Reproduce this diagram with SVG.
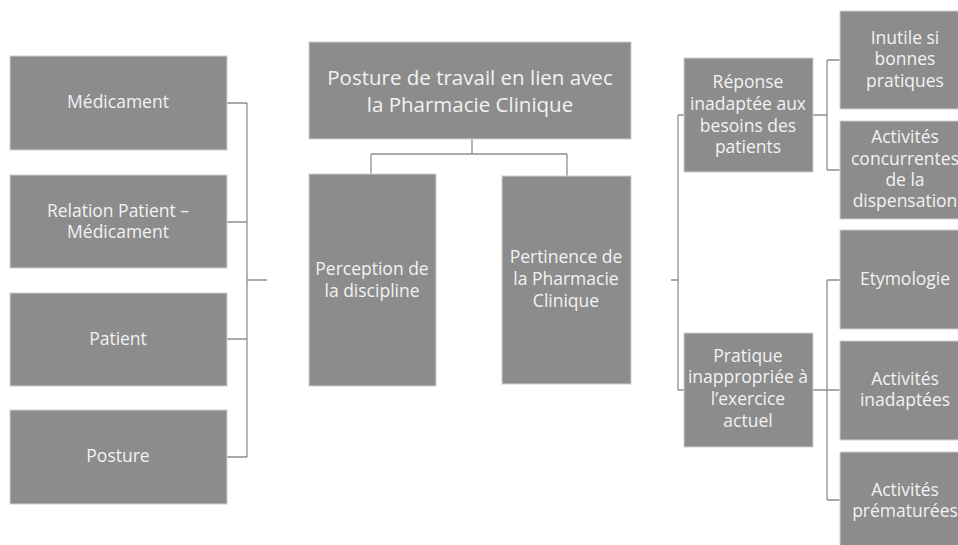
<svg xmlns="http://www.w3.org/2000/svg" width="958" height="545" viewBox="0 0 958 545">
<style>
.box{fill:#8c8c8c;stroke:#d0d0d0;stroke-width:1}
.t{font-family:"Open Sans","Noto Sans",sans-serif;font-size:17.5px;fill:#f2f2f2;text-anchor:middle}
.tt{font-family:"Open Sans","Noto Sans",sans-serif;font-size:20.5px;fill:#f2f2f2;text-anchor:middle}
.c{fill:none;stroke:#8f8f8f;stroke-width:1.3}
</style>
<rect width="958" height="545" fill="#ffffff"/>
<g id="connectors">
<path class="c" d="M227,103H247M227,222H247M227,339H247M227,457H247M247,103V457M247,280H267"/>
<path class="c" d="M472,139V154M371,154H567M371,154V174M567,154V176"/>
<path class="c" d="M671,280H678M678,115V390M678,115H684M678,390H684"/>
<path class="c" d="M813,115H827M827,60V170M827,60H840M827,170H840"/>
<path class="c" d="M813,390H840M827,280V500M827,280H840M827,500H840"/>
</g>
<g id="n-medicament"><rect class="box" x="10" y="56" width="217" height="94"/><text class="t" x="118" y="108">Médicament</text></g>
<g id="n-relation"><rect class="box" x="10" y="175" width="217" height="93"/><text class="t" x="118" y="217">Relation Patient –</text><text class="t" x="118" y="238">Médicament</text></g>
<g id="n-patient"><rect class="box" x="10" y="293" width="217" height="93"/><text class="t" x="118" y="345">Patient</text></g>
<g id="n-posture"><rect class="box" x="10" y="410" width="217" height="94"/><text class="t" x="118" y="462">Posture</text></g>
<g id="n-root"><rect class="box" x="309" y="42" width="322" height="97"/><text class="tt" x="470" y="85">Posture de travail en lien avec</text><text class="tt" x="470" y="112">la Pharmacie Clinique</text></g>
<g id="n-perception"><rect class="box" x="309" y="174" width="127" height="212"/><text class="t" x="372" y="275">Perception de</text><text class="t" x="372" y="297">la discipline</text></g>
<g id="n-pertinence"><rect class="box" x="502" y="176" width="129" height="208"/><text class="t" x="566" y="263">Pertinence de</text><text class="t" x="566" y="285">la Pharmacie</text><text class="t" x="566" y="307">Clinique</text></g>
<g id="n-reponse"><rect class="box" x="684" y="58" width="129" height="114"/><text class="t" x="748" y="88">Réponse</text><text class="t" x="748" y="110">inadaptée aux</text><text class="t" x="748" y="132">besoins des</text><text class="t" x="748" y="153">patients</text></g>
<g id="n-pratique"><rect class="box" x="684" y="333" width="129" height="114"/><text class="t" x="748" y="362">Pratique</text><text class="t" x="748" y="383">inappropriée à</text><text class="t" x="748" y="405">l’exercice</text><text class="t" x="748" y="427">actuel</text></g>
<g id="n-inutile"><rect class="box" x="840" y="11" width="130" height="98"/><text class="t" x="905" y="44">Inutile si</text><text class="t" x="905" y="65">bonnes</text><text class="t" x="905" y="87">pratiques</text></g>
<g id="n-concurrentes"><rect class="box" x="840" y="121" width="130" height="98"/><text class="t" x="905" y="143">Activités</text><text class="t" x="905" y="165">concurrentes</text><text class="t" x="905" y="186">de la</text><text class="t" x="905" y="207">dispensation</text></g>
<g id="n-etymologie"><rect class="box" x="840" y="230" width="130" height="99"/><text class="t" x="905" y="285">Etymologie</text></g>
<g id="n-inadaptees"><rect class="box" x="840" y="341" width="130" height="99"/><text class="t" x="905" y="385">Activités</text><text class="t" x="905" y="406">inadaptées</text></g>
<g id="n-prematurees"><rect class="box" x="840" y="452" width="130" height="99"/><text class="t" x="905" y="496">Activités</text><text class="t" x="905" y="517">prématurées</text></g>
</svg>
